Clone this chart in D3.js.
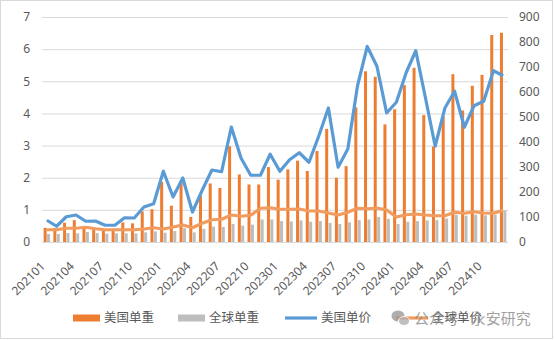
<!DOCTYPE html>
<html>
<head>
<meta charset="utf-8">
<script src="https://cdn.jsdelivr.net/npm/d3@7"></script>
<style>
  body { margin: 0; background: #fff; }
  svg { display: block; }
  text { font-family: "Noto Sans", "Noto Sans CJK SC", sans-serif; }
</style>
</head>
<body>
<svg id="chart" width="554" height="340"></svg>
<script>
// Monthly categories
const months = [
  "202101","202102","202103","202104","202105","202106","202107","202108","202109","202110","202111","202112",
  "202201","202202","202203","202204","202205","202206","202207","202208","202209","202210","202211","202212",
  "202301","202302","202303","202304","202305","202306","202307","202308","202309","202310","202311","202312",
  "202401","202402","202403","202404","202405","202406","202407","202408","202409","202410","202411","202412"
];
const tickLabels = ["202101","202104","202107","202110","202201","202204","202207","202210",
                    "202301","202304","202307","202310","202401","202404","202407","202410"];
const leftTicks = [0, 1, 2, 3, 4, 5, 6, 7];
const rightTicks = [0, 100, 200, 300, 400, 500, 600, 700, 800, 900];

// 美国单重 (left axis)
const usWeight = [0.44,0.43,0.60,0.68,0.45,0.42,0.38,0.40,0.61,0.58,0.95,1.02,
                  1.87,1.13,1.85,0.78,1.43,1.82,1.68,2.98,2.10,1.79,1.79,2.33,
                  1.94,2.26,2.53,2.21,2.83,3.52,2.00,2.36,4.19,5.31,5.14,3.66,
                  4.13,4.88,5.42,3.95,2.97,3.90,5.22,4.09,4.86,5.20,6.44,6.51];
// 全球单重 (left axis)
const globalWeight = [0.25,0.25,0.28,0.27,0.31,0.28,0.26,0.27,0.27,0.27,0.30,0.33,
                      0.29,0.34,0.43,0.30,0.41,0.48,0.47,0.56,0.51,0.54,0.70,0.70,
                      0.65,0.64,0.67,0.63,0.65,0.59,0.56,0.61,0.68,0.70,0.78,0.72,
                      0.56,0.63,0.65,0.67,0.68,0.73,0.85,0.82,0.85,0.83,0.85,0.98];
// 美国单价 (right axis)
const usPrice = [87,63,101,108,83,84,67,67,97,96,140,153,
                 283,180,256,120,207,288,281,460,336,267,267,351,
                 283,329,357,319,423,536,299,372,625,782,703,516,
                 559,676,765,576,383,536,603,459,545,563,685,665];
// 全球单价 (right axis)
const globalPrice = [49,49,55,55,59,53,49,49,49,49,52,57,
                     52,60,68,57,75,89,91,108,103,107,135,137,
                     131,131,132,124,124,116,108,119,135,133,136,128,
                     100,109,112,108,105,105,119,115,121,116,115,127];

const colors = { usW: "#ED7D31", glW: "#BDBDBD", usP: "#5B9BD5", glP: "#F29B5E" };
const textColor = "#595959";

const svg = d3.select("#chart");
const plot = { left: 42, right: 508, top: 17, bottom: 242 };

// outer frame
svg.append("rect")
  .attr("x", 0.5).attr("y", 0.5).attr("width", 552).attr("height", 338)
  .attr("fill", "#fff").attr("stroke", "#d9d9d9");

const x = d3.scaleBand().domain(months).range([plot.left, plot.right]);
const bw = x.bandwidth();
const groupW = bw * 0.66;
const xs = d3.scaleBand().domain(["us", "global"]).range([-groupW / 2, groupW / 2]).paddingInner(0.12);
const yL = d3.scaleLinear().domain([0, 7]).range([plot.bottom, plot.top]);
const yR = d3.scaleLinear().domain([0, 900]).range([plot.bottom, plot.top]);

// left axis with gridlines
const gL = svg.append("g")
  .attr("transform", `translate(${plot.left},0)`)
  .call(d3.axisLeft(yL).tickValues(leftTicks).tickFormat(d3.format("d"))
    .tickSize(-(plot.right - plot.left)).tickPadding(12));
gL.select(".domain").remove();
gL.selectAll(".tick line").attr("stroke", "#d9d9d9").attr("stroke-width", 1);
gL.selectAll(".tick text").attr("fill", textColor).attr("font-size", 12);

// right axis
const gR = svg.append("g")
  .attr("transform", `translate(${plot.right},0)`)
  .call(d3.axisRight(yR).tickValues(rightTicks).tickFormat(d3.format("d")).tickSize(0).tickPadding(11));
gR.select(".domain").remove();
gR.selectAll(".tick text").attr("fill", textColor).attr("font-size", 12);

// bottom axis, rotated labels
const gB = svg.append("g")
  .attr("transform", `translate(0,${plot.bottom})`)
  .call(d3.axisBottom(x).tickValues(tickLabels).tickSize(0));
gB.select(".domain").remove();
gB.selectAll(".tick text")
  .attr("fill", textColor).attr("font-size", 12)
  .attr("text-anchor", "end")
  .attr("x", 0).attr("y", 0).attr("dy", "0.35em")
  .attr("transform", "translate(-4,22) rotate(-45)");

const cx = i => x(months[i]) + bw / 2;

// bars
svg.append("g").selectAll("rect")
  .data(usWeight)
  .join("rect")
  .attr("x", (d, i) => cx(i) + xs("us"))
  .attr("width", xs.bandwidth())
  .attr("y", d => yL(d))
  .attr("height", d => yL(0) - yL(d))
  .attr("fill", colors.usW);

svg.append("g").selectAll("rect")
  .data(globalWeight)
  .join("rect")
  .attr("x", (d, i) => cx(i) + xs("global"))
  .attr("width", xs.bandwidth())
  .attr("y", d => yL(d))
  .attr("height", d => yL(0) - yL(d))
  .attr("fill", colors.glW);

// lines
const line = d3.line().x((d, i) => cx(i)).y(d => yR(d));
svg.append("path").datum(globalPrice)
  .attr("d", line).attr("fill", "none")
  .attr("stroke", colors.glP).attr("stroke-width", 3.2).attr("stroke-linejoin", "round");
svg.append("path").datum(usPrice)
  .attr("d", line).attr("fill", "none")
  .attr("stroke", colors.usP).attr("stroke-width", 3.2).attr("stroke-linejoin", "round");

// legend
const legendY = 318;
const legendItems = [
  { name: "美国单重", color: colors.usW, type: "bar",  x: 73 },
  { name: "全球单重", color: colors.glW, type: "bar",  x: 178 },
  { name: "美国单价", color: colors.usP, type: "line", x: 285 },
  { name: "全球单价", color: colors.glP, type: "line", x: 396 }
];
const lg = svg.append("g").selectAll("g").data(legendItems).join("g")
  .attr("transform", d => `translate(${d.x},${legendY})`);
lg.filter(d => d.type === "bar").append("rect")
  .attr("x", 0).attr("y", -3.5).attr("width", 27).attr("height", 7).attr("fill", d => d.color);
lg.filter(d => d.type === "line").append("line")
  .attr("x1", 0).attr("x2", 32).attr("y1", 0).attr("y2", 0)
  .attr("stroke", d => d.color).attr("stroke-width", 3.2);
lg.append("text")
  .attr("x", d => d.type === "bar" ? 31 : 36).attr("y", 0).attr("dy", "0.35em")
  .attr("font-size", 12.5).attr("fill", textColor)
  .attr("font-family", "'Noto Sans CJK SC', sans-serif")
  .text(d => d.name);

// publisher mark over the legend
const wm = svg.append("g").attr("transform", "translate(392,318)").attr("opacity", 0.8);
wm.append("ellipse").attr("cx", 6).attr("cy", -2).attr("rx", 6.5).attr("ry", 5.5).attr("fill", "#9a9a9a");
wm.append("ellipse").attr("cx", 12).attr("cy", 3).attr("rx", 5.5).attr("ry", 4.5)
  .attr("fill", "#b0b0b0").attr("stroke", "#fff").attr("stroke-width", 1);
wm.append("text")
  .attr("x", 22).attr("y", 0).attr("dy", "0.38em")
  .attr("font-size", 15).attr("fill", "#8a8a8a")
  .attr("font-family", "'Noto Sans CJK SC', sans-serif")
  .text("公众号 · 永安研究");
</script>
</body>
</html>
